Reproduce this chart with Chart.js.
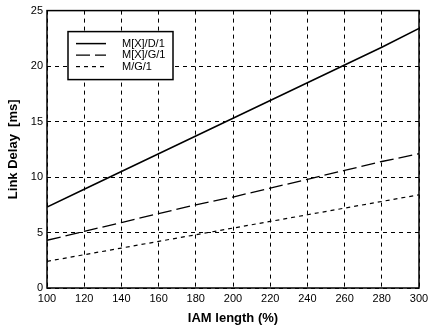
<!DOCTYPE html>
<html>
<head>
<meta charset="utf-8">
<script src="https://cdn.jsdelivr.net/npm/chart.js@4"></script>
<style>
  html, body { margin: 0; padding: 0; background: #fff; }
  #wrap { width: 434px; height: 326px; }
</style>
</head>
<body>
<div id="wrap"><canvas id="myChart" width="434" height="326"></canvas></div>
<script>
// IAM length (%) on x axis
const iamLength = [100, 120, 140, 160, 180, 200, 220, 240, 260, 280, 300];
// link delay in ms
const mxd1 = [7.3, 8.9, 10.5, 12.1, 13.7, 15.3, 16.9, 18.5, 20.1, 21.7, 23.4];
const mxg1 = [4.3, 5.1, 5.9, 6.7, 7.5, 8.2, 9.0, 9.8, 10.6, 11.4, 12.1];
const mg1 = [2.4, 3.0, 3.6, 4.2, 4.8, 5.4, 6.0, 6.6, 7.2, 7.8, 8.4];
const seriesNames = ["M[X]/D/1", "M[X]/G/1", "M/G/1"];
const yTicks = [0, 5, 10, 15, 20, 25];

const FONT = "'Liberation Sans Narrow', 'Liberation Sans', Arial, sans-serif";

function toPoints(arr) {
  return arr.map((v, i) => ({ x: iamLength[i], y: v }));
}

// draws the frame and the boxed legend inside the plot
const framePlugin = {
  id: "frame",
  afterDraw(chart) {
    const c = chart.ctx;
    const a = chart.chartArea;
    c.save();
    c.strokeStyle = "#000";
    c.lineWidth = 1.5;
    c.setLineDash([]);
    c.strokeRect(a.left, a.top, a.right - a.left, a.bottom - a.top);

    // legend box
    const bx = a.left + 21, by = a.top + 21, bw = 105, bh = 48;
    c.fillStyle = "#fff";
    c.fillRect(bx, by, bw, bh);
    c.lineWidth = 1.5;
    c.strokeRect(bx, by, bw, bh);
    c.font = "11px " + FONT;
    c.textBaseline = "middle";
    chart.data.datasets.forEach((ds, i) => {
      const yy = by + 12 + i * 11.5;
      c.beginPath();
      c.lineWidth = ds.borderWidth;
      c.setLineDash(ds.borderDash || []);
      c.moveTo(bx + 8, yy);
      c.lineTo(bx + 38, yy);
      c.stroke();
      c.setLineDash([]);
      c.fillStyle = "#000";
      c.fillText(ds.label, bx + 54, yy);
    });
    c.restore();
  }
};

const graphData = {
  type: "line",
  data: {
    datasets: [
      {
        label: seriesNames[0],
        data: toPoints(mxd1),
        borderColor: "#000",
        borderWidth: 1.5,
        borderDash: [],
        pointRadius: 0,
        fill: false,
      },
      {
        label: seriesNames[1],
        data: toPoints(mxg1),
        borderColor: "#000",
        borderWidth: 1.3,
        borderDash: [14, 5],
        pointRadius: 0,
        fill: false,
      },
      {
        label: seriesNames[2],
        data: toPoints(mg1),
        borderColor: "#000",
        borderWidth: 1.2,
        borderDash: [4, 4],
        pointRadius: 0,
        fill: false,
      },
    ],
  },
  options: {
    responsive: false,
    animation: false,
    layout: { padding: { top: 9, right: 15, left: 6, bottom: 0 } },
    plugins: {
      legend: { display: false },
      tooltip: { enabled: false },
    },
    scales: {
      x: {
        type: "linear",
        min: 100,
        max: 300,
        afterBuildTicks(axis) {
          axis.ticks = iamLength.map(v => ({ value: v }));
        },
        grid: { color: "#000", lineWidth: 1, drawTicks: false },
        border: { display: false, dash: [4, 4] },
        ticks: {
          color: "#000",
          padding: 4,
          maxRotation: 0,
          font: { family: FONT, size: 11 },
        },
        title: {
          display: true,
          text: "IAM length (%)",
          color: "#000",
          padding: { top: 1, bottom: 0 },
          font: { family: FONT, size: 13, weight: "bold" },
        },
        afterFit(axis) { axis.height = 38; },
      },
      y: {
        min: 0,
        max: 25,
        afterBuildTicks(axis) {
          axis.ticks = yTicks.map(v => ({ value: v }));
        },
        grid: { color: "#000", lineWidth: 1, drawTicks: false },
        border: { display: false, dash: [4, 4] },
        ticks: {
          color: "#000",
          padding: 4,
          font: { family: FONT, size: 11 },
        },
        title: {
          display: true,
          text: "Link Delay  [ms]",
          color: "#000",
          padding: { top: 0, bottom: 2 },
          font: { family: FONT, size: 13, weight: "bold" },
        },
        afterFit(axis) { axis.width = 41; },
      },
    },
  },
  plugins: [framePlugin],
};

const ctx = document.getElementById("myChart");
var myChart = new Chart(ctx, graphData);
</script>
</body>
</html>
